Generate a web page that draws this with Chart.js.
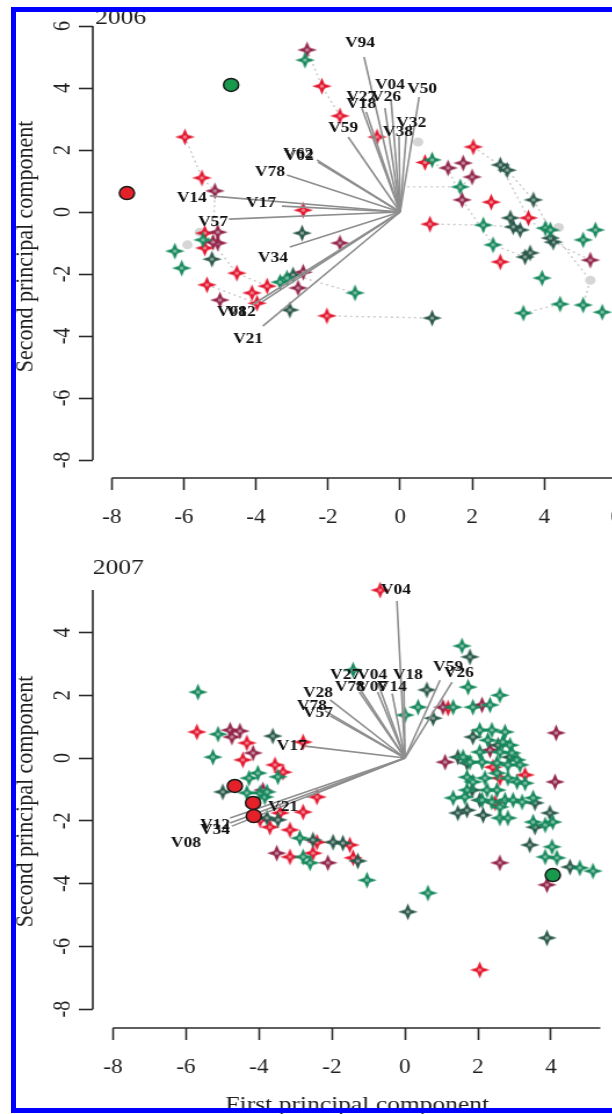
<!DOCTYPE html>
<html>
<head>
<meta charset="utf-8">
<script src="https://cdn.jsdelivr.net/npm/chart.js@4.4.0/dist/chart.umd.min.js"></script>
<style>
  html, body { margin: 0; padding: 0; background: #fff; width: 612px; height: 1114px; overflow: hidden; }
  .panel { position: absolute; left: 0; transform-origin: 0 0; transform: scaleX(1.16); }
  #frame { position: absolute; left: 11px; top: 7px; width: 700px; height: 1106px; border: 5px solid #0000fe; box-sizing: border-box; z-index: 5; }
</style>
</head>
<body>
<canvas id="c2006" class="panel" width="552" height="557" style="top:0"></canvas>
<canvas id="c2007" class="panel" width="552" height="565" style="top:557px"></canvas>
<div id="frame"></div>
<script>
// --- tick labels ---
const xTicks2006 = [-8, -6, -4, -2, 0, 2, 4, 6];
const yTicks2006 = [-8, -6, -4, -2, 0, 2, 4, 6];
const xTicks2007 = [-8, -6, -4, -2, 0, 2, 4];
const yTicks2007 = [-8, -6, -4, -2, 0, 2, 4];

// --- 2006 scores [PC1, PC2] ---
const red2006 = [[-5.97, 2.42], [-5.5, 1.1], [-5.42, -0.68], [-5.42, -1.16], [-5.36, -2.35], [-4.53, -1.97],
  [-4.11, -2.61], [-3.97, -2.94], [-3.69, -2.39], [-2.69, 0.06], [-2.03, -3.35], [-2.17, 4.06], [-1.67, 3.1],
  [-0.64, 2.42], [0.69, 1.6], [2.03, 2.1], [2.53, 0.32], [0.83, -0.39], [3.56, -0.19], [2.78, -1.61]];
const crimson2006 = [[-5.14, 0.68], [-5.06, -0.65], [-5.06, -1.0], [-5.19, -0.97], [-5.0, -2.84], [-2.58, 5.23],
  [1.33, 1.42], [1.75, 1.58], [2.0, 1.13], [1.72, 0.39], [5.28, -1.55], [-1.67, -1.0], [-2.69, -1.94], [-2.83, -2.45]];
const green2006 = [[-2.64, 4.9], [0.89, 1.68], [1.67, 0.81], [2.31, -0.42], [4.03, -0.52], [4.17, -0.58],
  [5.08, -0.9], [5.42, -0.58], [2.58, -1.06], [3.94, -2.13], [3.42, -3.26], [4.44, -2.97], [5.08, -3.0],
  [5.61, -3.23], [-1.25, -2.61], [-5.47, -0.9], [-6.25, -1.26], [-6.06, -1.81], [-3.33, -2.26], [-3.14, -2.13]];
const dark2006 = [[2.78, 1.52], [2.97, 1.35], [3.7, 0.39], [3.06, -0.19], [3.33, -0.58], [3.14, -0.48],
  [4.25, -0.97], [4.17, -0.84], [3.61, -1.32], [3.47, -1.45], [0.89, -3.42], [-2.72, -0.68], [-5.22, -1.52],
  [-2.97, -2.03], [-3.06, -3.16]];
const grey2006 = [[-5.9, -1.06], [-5.56, -0.65], [0.5, 2.26], [5.28, -2.2], [4.4, -0.5]];
const redCircle2006 = [[-7.58, 0.61]];
const greenCircle2006 = [[-4.69, 4.1]];
const paths2006 = [
  [[-5.97, 2.42], [-5.5, 1.1], [-5.14, 0.68], [-5.19, -0.97]],
  [[-2.58, 5.23], [-2.17, 4.06], [-1.67, 3.1]],
  [[-2.03, -3.35], [0.89, -3.42]],
  [[-2.97, -2.03], [-1.25, -2.61]],
  [[0.2, 0.81], [1.67, 0.81], [2.0, 1.13]],
  [[0.83, -0.39], [2.31, -0.42], [3.14, -0.48]],
  [[0.69, 1.6], [1.33, 1.42], [1.72, 0.39], [2.58, -1.06], [3.47, -1.45]],
  [[2.03, 2.1], [2.97, 1.35], [3.7, 0.39], [4.17, -0.58], [5.28, -2.2], [5.08, -3.0]],
  [[2.78, 1.52], [3.56, -0.19], [4.25, -0.97], [5.28, -1.55]],
  [[3.42, -3.26], [4.44, -2.97]],
  [[-5.42, -0.68], [-4.53, -1.97], [-3.69, -2.39], [-3.14, -2.13]],
  [[-5.36, -2.35], [-3.97, -2.94]]
];
// loadings: [name, arrow tip x, tip y, label x, label y]
const arrows2006 = [
  ['V94', -1.0, 5.0, -1.11, 5.45], ['V27', -1.06, 3.35, -1.08, 3.71], ['V18', -0.94, 3.23, -1.08, 3.48],
  ['V26', -0.42, 3.35, -0.39, 3.71], ['V04', -0.25, 3.61, -0.28, 4.1], ['V50', 0.53, 3.71, 0.61, 3.97],
  ['V32', 0.19, 2.74, 0.31, 2.87], ['V38', -0.03, 2.48, -0.06, 2.58], ['V59', -1.44, 2.42, -1.58, 2.71],
  ['V62', -2.31, 1.68, -2.83, 1.87], ['V02', -2.28, 1.61, -2.81, 1.81], ['V78', -3.14, 1.19, -3.61, 1.29],
  ['V14', -5.28, 0.52, -5.78, 0.45], ['V17', -3.28, 0.19, -3.86, 0.29], ['V57', -4.75, -0.23, -5.19, -0.32],
  ['V34', -3.06, -1.13, -3.53, -1.48], ['V08', -4.11, -3.0, -4.67, -3.23], ['V12', -3.83, -2.9, -4.42, -3.23],
  ['V21', -3.81, -3.68, -4.22, -4.1]
];

// --- 2007 scores ---
const red2007 = [[-5.7, 0.83], [-4.33, 0.48], [-4.44, -0.06], [-3.56, -0.22], [-3.34, -0.45], [-3.42, -1.75],
  [-3.15, -2.29], [-3.97, -1.97], [-3.7, -2.2], [-3.15, -3.15], [-2.41, -2.68], [-2.52, -3.03], [-1.51, -2.77],
  [-1.42, -3.18], [-2.41, -1.24], [-2.79, -1.72], [-2.79, 0.51], [2.41, -0.29], [2.6, -0.64], [3.29, -0.54],
  [2.47, -1.43], [1.18, 1.59], [2.05, -6.75], [-0.68, 5.35]];
const crimson2007 = [[-4.79, 0.89], [-4.52, 0.86], [-4.74, 0.67], [-4.16, 0.16], [-3.89, -1.02], [-3.51, -3.03],
  [-2.11, -3.34], [1.1, -0.13], [4.11, -0.76], [4.14, 0.8], [2.6, -3.34], [3.89, -4.04], [2.11, 1.69],
  [1.04, 1.62], [2.33, 0.25]];
const green2007 = [[-5.67, 2.1], [-5.12, 0.76], [-5.26, 0.03], [-4.03, -0.48], [-4.27, -0.64], [-3.48, -0.6],
  [-3.84, -1.24], [-4.33, -1.11], [-3.97, -1.11], [-3.78, -1.08], [-2.88, -2.55], [-2.79, -3.15], [-2.6, -3.34],
  [-1.04, -3.89], [-1.42, 2.8], [1.56, 3.57], [0.36, 1.62], [0, 1.37], [1.32, 1.62], [1.73, 2.26], [1.86, 1.62],
  [2.33, 1.69], [2.6, 2.0], [0.63, -4.3], [4.03, -2.83], [3.84, -3.15], [4.16, -3.18], [4.79, -3.5], [5.15, -3.6],
  [2.05, 0.89], [2.38, 0.89], [2.74, 0.83], [2.27, 0.57], [2.68, 0.51], [2.88, 0.41], [2.05, 0.19], [2.6, 0.19],
  [2.93, 0.16], [3.07, -0.06], [1.59, 0.03], [1.78, -0.13], [2.11, -0.13], [2.52, -0.16], [2.82, -0.22],
  [3.15, -0.22], [1.7, -0.61], [1.86, -0.76], [2.19, -0.64], [2.52, -0.48], [2.82, -0.64], [3.07, -0.76],
  [3.29, -0.8], [1.7, -1.02], [2.25, -1.02], [2.52, -1.02], [2.74, -1.34], [2.96, -1.34], [3.21, -1.4],
  [3.51, -1.27], [1.32, -1.27], [1.64, -1.24], [2.11, -1.34], [2.38, -1.4], [2.6, -1.56], [2.6, -1.91],
  [2.82, -1.91], [3.51, -2.04], [3.84, -2.13], [4.05, -2.04]];
const dark2007 = [[-3.62, 0.7], [-4.99, -1.08], [-3.78, -1.91], [-3.48, -1.97], [-2.52, -2.61], [-1.97, -2.68],
  [-1.7, -2.71], [-1.29, -3.28], [1.78, 3.22], [0.6, 2.17], [0.77, 1.27], [0.08, -4.9], [3.42, -2.77],
  [4.52, -3.47], [3.89, -5.73], [1.45, 0.03], [1.7, -0.16], [1.84, -1.02], [2.05, -1.34], [3.56, -1.43],
  [1.45, -1.75], [1.7, -1.66], [2.14, -1.82], [3.56, -2.2], [3.97, -1.75], [1.86, 0.67], [2.55, 0.41], [2.88, 0.03]];
const redCircle2007 = [[-4.66, -0.89], [-4.16, -1.43], [-4.14, -1.85]];
const greenCircle2007 = [[4.05, -3.73]];
const arrows2007 = [
  ['V04', -0.22, 5.0, -0.25, 5.35], ['V27', -1.34, 2.39, -1.64, 2.64], ['V04', -0.74, 2.39, -0.9, 2.64],
  ['V18', -0.03, 2.36, 0.08, 2.64], ['V78', -1.25, 2.1, -1.51, 2.26], ['V07', -0.75, 2.1, -0.9, 2.26],
  ['V14', -0.35, 2.05, -0.36, 2.26], ['V59', 0.96, 2.48, 1.18, 2.9], ['V26', 1.29, 2.42, 1.48, 2.71],
  ['V28', -2.05, 1.85, -2.38, 2.07], ['V78', -2.19, 1.5, -2.55, 1.66], ['V57', -2.05, 1.34, -2.38, 1.43],
  ['V17', -2.74, 0.38, -3.1, 0.38], ['V21', -2.7, -1.25, -3.34, -1.56], ['V12', -4.79, -1.91, -5.2, -2.13],
  ['V34', -4.79, -2.07, -5.2, -2.29], ['V08', -4.74, -2.17, -6.0, -2.7]
];

const COLORS = { red: '#e3172f', crimson: '#93264a', green: '#17895d', dark: '#2b594b' };
const FONT = '"Liberation Serif", "DejaVu Serif", serif';

// 4-point star marker, drawn once per colour
function starImage(color) {
  const c = document.createElement('canvas');
  c.width = 19; c.height = 19;
  const g = c.getContext('2d');
  const R = 8.5, r = 2.3;
  g.translate(9.5, 9.5);
  g.fillStyle = color;
  g.beginPath();
  g.moveTo(0, -R); g.lineTo(r, -r); g.lineTo(R, 0); g.lineTo(r, r);
  g.lineTo(0, R); g.lineTo(-r, r); g.lineTo(-R, 0); g.lineTo(-r, -r);
  g.closePath();
  g.fill();
  g.beginPath();
  g.arc(0, 0, 1.7, 0, Math.PI * 2);
  g.fillStyle = 'rgba(255,255,255,0.45)';
  g.fill();
  return c;
}

const toXY = list => list.map(p => ({ x: p[0], y: p[1] }));

// axis lines (R style, detached), rotated y tick labels, biplot labels, panel year
const biplotText = {
  id: 'biplotText',
  afterDraw(chart, args, opts) {
    const { ctx, chartArea, scales: { x, y } } = chart;
    ctx.save();
    ctx.strokeStyle = '#2a2a2a';
    ctx.lineWidth = 1.6;
    ctx.beginPath();
    ctx.moveTo(x.getPixelForValue(opts.xLine[0]), chartArea.bottom);
    ctx.lineTo(x.getPixelForValue(opts.xLine[1]), chartArea.bottom);
    ctx.moveTo(chartArea.left, y.getPixelForValue(opts.yLine[0]));
    ctx.lineTo(chartArea.left, y.getPixelForValue(opts.yLine[1]));
    ctx.stroke();

    ctx.fillStyle = '#1e1e1e';
    ctx.font = '20px ' + FONT;
    ctx.textAlign = 'center';
    ctx.textBaseline = 'middle';
    y.ticks.forEach(t => {
      ctx.save();
      ctx.translate(chartArea.left - 25.5, y.getPixelForValue(t.value));
      ctx.rotate(-Math.PI / 2);
      ctx.fillText(String(t.value), 0, 0);
      ctx.restore();
    });

    ctx.fillStyle = '#111';
    ctx.font = 'bold 15px ' + FONT;
    opts.arrows.forEach(a => ctx.fillText(a[0], x.getPixelForValue(a[3]), y.getPixelForValue(a[4])));

    ctx.fillStyle = '#1e1e1e';
    ctx.font = '22px ' + FONT;
    if (opts.xTitle) ctx.fillText(opts.xTitle, opts.xTitlePos[0], opts.xTitlePos[1]);
    ctx.textAlign = 'left';
    ctx.fillText(opts.year, opts.yearPos[0], opts.yearPos[1]);
    ctx.restore();
  }
};

function buildChart(id, p) {
  const datasets = [];
  p.paths.forEach(path => datasets.push({
    data: toXY(path), showLine: true, borderColor: '#cacaca', borderWidth: 1.4,
    borderDash: [2, 3], pointRadius: 0, order: 6
  }));
  if (p.grey.length) {
    datasets.push({ data: toXY(p.grey), pointRadius: 4.5, backgroundColor: '#d6d6d6', borderWidth: 0, order: 5 });
  }
  [['green', p.green], ['dark', p.dark], ['crimson', p.crimson], ['red', p.red]].forEach(([k, list]) => {
    datasets.push({ data: toXY(list), pointStyle: starImage(COLORS[k]), pointRadius: 8, order: 3 });
  });
  p.arrows.forEach(a => datasets.push({
    data: [{ x: 0, y: 0 }, { x: a[1], y: a[2] }], showLine: true,
    borderColor: '#8e8e8e', borderWidth: 1.6, pointRadius: 0, order: 2
  }));
  datasets.push({ data: toXY(p.redCircles), pointRadius: 6.5, backgroundColor: '#e42128', borderColor: '#1a1a1a', borderWidth: 1.5, order: 1 });
  datasets.push({ data: toXY(p.greenCircles), pointRadius: 6.5, backgroundColor: '#189a4c', borderColor: '#1a1a1a', borderWidth: 1.5, order: 1 });

  const tickFont = { family: FONT, size: 20 };
  const gridOpts = { drawOnChartArea: false, drawTicks: true, tickLength: 12, tickColor: '#2a2a2a', tickWidth: 1.6 };

  new Chart(document.getElementById(id), {
    type: 'scatter',
    data: { datasets },
    options: {
      responsive: false,
      animation: false,
      events: [],
      layout: { autoPadding: false, padding: { top: p.top, left: 0, right: 0, bottom: 0 } },
      plugins: {
        legend: { display: false },
        tooltip: { enabled: false },
        biplotText: {
          arrows: p.arrows, xLine: p.xLine, yLine: p.yLine, year: p.year, yearPos: p.yearPos,
          xTitle: p.xTitle, xTitlePos: p.xTitlePos
        }
      },
      scales: {
        x: {
          type: 'linear', min: p.xRange[0], max: p.xRange[1],
          afterBuildTicks: s => { s.ticks = p.xTicks.map(v => ({ value: v })); },
          afterFit: s => { s.height = p.xAxisHeight; s.paddingLeft = 0; s.paddingRight = 0; },
          grid: gridOpts,
          border: { display: false },
          ticks: { font: tickFont, color: '#1e1e1e', padding: 16, maxRotation: 0, autoSkip: false }
        },
        y: {
          type: 'linear', min: p.yRange[0], max: p.yRange[1],
          afterBuildTicks: s => { s.ticks = p.yTicks.map(v => ({ value: v })); },
          afterFit: s => { s.width = 80; s.paddingTop = 0; s.paddingBottom = 0; },
          grid: gridOpts,
          border: { display: false },
          ticks: { display: false },
          title: {
            display: true, text: 'Second principal component', color: '#1e1e1e',
            font: { family: FONT, size: 22 }, padding: { top: 9, bottom: 0 }
          }
        }
      }
    },
    plugins: [biplotText]
  });
}

buildChart('c2006', {
  red: red2006, crimson: crimson2006, green: green2006, dark: dark2006, grey: grey2006,
  redCircles: redCircle2006, greenCircles: greenCircle2006, paths: paths2006, arrows: arrows2006,
  xTicks: xTicks2006, yTicks: yTicks2006,
  xRange: [-8.527, 6.667], yRange: [-8.58, 6.355], xLine: [-8, 6.667], yLine: [-8, 6],
  top: 15, xAxisHeight: 79, year: '2006', yearPos: [82, 18]
});

buildChart('c2007', {
  red: red2007, crimson: crimson2007, green: green2007, dark: dark2007, grey: [],
  redCircles: redCircle2007, greenCircles: greenCircle2007, paths: [], arrows: arrows2007,
  xTicks: xTicks2007, yTicks: yTicks2007,
  xRange: [-8.55, 6.447], yRange: [-8.6, 5.83], xLine: [-8, 5.35], yLine: [-8, 5.35],
  top: 18, xAxisHeight: 94, year: '2007', yearPos: [80, 11],
  xTitle: 'First principal component', xTitlePos: [308, 548]
});
</script>
</body>
</html>
